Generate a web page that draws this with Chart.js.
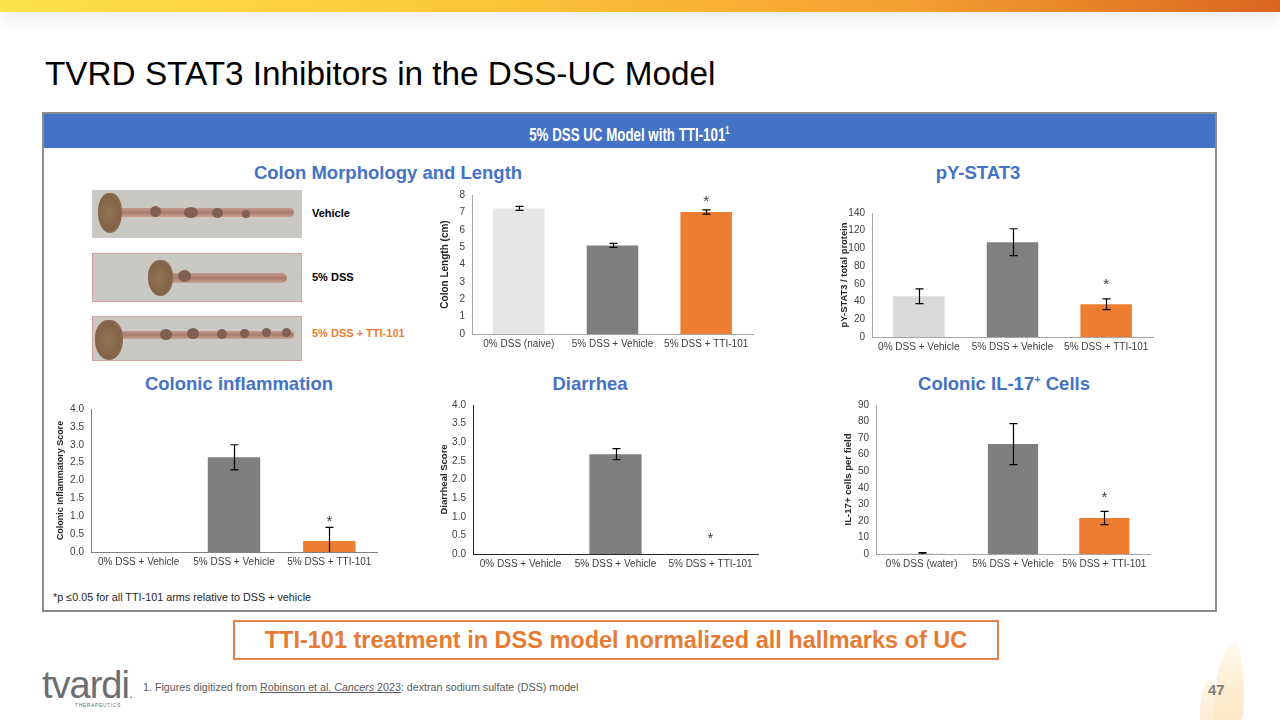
<!DOCTYPE html>
<html>
<head>
<meta charset="utf-8">
<script src="https://cdn.jsdelivr.net/npm/chart.js"></script>
<style>
  body { margin: 0; width: 1280px; height: 720px; position: relative; overflow: hidden; background: #fff; font-family: "Liberation Sans", Arial, sans-serif; }
  .abs { position: absolute; }
  canvas { position: absolute; }
  .topbar { left: 0; top: 0; width: 1280px; height: 12px; background: linear-gradient(90deg, #fde24a 0%, #fcc83a 35%, #f6a132 70%, #d9661f 100%); box-shadow: 0 6px 16px rgba(0,0,0,0.10); }
  .title { left: 45px; top: 55px; font-size: 33.3px; color: #000; white-space: nowrap; }
  .frame { left: 42px; top: 112px; width: 1171px; height: 496px; border: 2px solid #8c8c8c; }
  .header { left: 44px; top: 114px; width: 1171px; height: 34px; background: #4472c4; color: #fff; font-weight: bold; font-size: 18px; line-height: 34px; text-align: center; }
  .header span { display: inline-block; transform: scaleX(0.74); }
  .section { width: 400px; text-align: center; color: #4472c4; font-weight: bold; font-size: 18.5px; }
  .photo { left: 92px; width: 210px; background: #c9c8c3; overflow: hidden; }
  .head { position: absolute; border-radius: 45% 45% 50% 50%; background: radial-gradient(ellipse at 45% 50%, #917552 0%, #826449 60%, #a88070 100%); }
  .tail { position: absolute; border-radius: 6px; background: linear-gradient(180deg, #c29a8e 0%, #a97a6c 50%, #caa396 100%); }
  .bump { position: absolute; border-radius: 50%; background: #806050; }
  .plabel { left: 312px; font-size: 11px; font-weight: bold; color: #000; }
  .note { left: 53px; top: 591px; font-size: 10.8px; color: #262626; }
  .callout { left: 233px; top: 620px; width: 762px; height: 36px; border: 2px solid #e3824a; color: #e77b34; font-weight: bold; font-size: 23.5px; line-height: 36px; text-align: center; white-space: nowrap; }
  .logo { left: 42px; top: 664px; font-size: 38px; color: #6d6e71; letter-spacing: -1px; }
  .logo-sub { left: 75px; top: 702px; font-size: 5px; color: #6d6e71; letter-spacing: 0.6px; }
  .foot { left: 143px; top: 681px; font-size: 10.7px; color: #595959; }
  .page { left: 1208px; top: 681px; font-size: 15px; font-weight: bold; color: #7f7f7f; }
  .flame { left: 1214px; top: 642px; width: 30px; height: 95px; border-radius: 70% 30% 50% 50% / 80% 60% 40% 20%; background: linear-gradient(0deg, #fbd9a8 0%, #fde8c6 55%, #fff8ea 100%); opacity: 0.75; }
  .flame2 { left: 1200px; top: 680px; width: 22px; height: 50px; border-radius: 40% 60% 50% 50% / 70% 80% 20% 30%; background: linear-gradient(0deg, #fce3bb 0%, #fff2dc 100%); opacity: 0.7; }
</style>
</head>
<body>
<div class="abs topbar"></div>
<div class="abs title">TVRD STAT3 Inhibitors in the DSS-UC Model</div>

<div class="abs frame"></div>
<div class="abs header"><span>5% DSS UC Model with TTI-101<sup style="font-size:10px">1</sup></span></div>

<div class="abs section" style="left:188px; top:162px">Colon Morphology and Length</div>
<div class="abs section" style="left:778px; top:162px">pY-STAT3</div>
<div class="abs section" style="left:39px; top:373px">Colonic inflammation</div>
<div class="abs section" style="left:390px; top:373px">Diarrhea</div>
<div class="abs section" style="left:804px; top:373px">Colonic IL-17<sup style="font-size:11px">+</sup> Cells</div>

<div class="abs photo" style="top:190px; height:48px">
  <div class="tail" style="left:24px; top:18px; width:178px; height:9px"></div>
  <div class="head" style="left:6px; top:3px; width:24px; height:40px"></div>
  <div class="bump" style="left:58px; top:16px; width:11px; height:11px"></div>
  <div class="bump" style="left:92px; top:17px; width:14px; height:11px"></div>
  <div class="bump" style="left:120px; top:18px; width:11px; height:10px"></div>
  <div class="bump" style="left:150px; top:20px; width:8px; height:8px"></div>
</div>
<div class="abs photo" style="top:253px; height:49px; box-shadow: inset 0 0 0 1px #d6a0a0">
  <div class="tail" style="left:70px; top:20px; width:125px; height:10px"></div>
  <div class="head" style="left:56px; top:7px; width:25px; height:36px"></div>
  <div class="bump" style="left:86px; top:17px; width:13px; height:12px"></div>
</div>
<div class="abs photo" style="top:316px; height:45px; box-shadow: inset 0 0 0 1px #d6a0a0">
  <div class="tail" style="left:22px; top:15px; width:180px; height:8px"></div>
  <div class="head" style="left:3px; top:4px; width:28px; height:40px"></div>
  <div class="bump" style="left:68px; top:13px; width:12px; height:11px"></div>
  <div class="bump" style="left:95px; top:12px; width:12px; height:11px"></div>
  <div class="bump" style="left:125px; top:13px; width:10px; height:10px"></div>
  <div class="bump" style="left:148px; top:13px; width:9px; height:9px"></div>
  <div class="bump" style="left:170px; top:12px; width:9px; height:9px"></div>
  <div class="bump" style="left:190px; top:12px; width:9px; height:9px"></div>
</div>
<div class="abs plabel" style="top:207px">Vehicle</div>
<div class="abs plabel" style="top:271px">5% DSS</div>
<div class="abs plabel" style="top:327px; color:#ed7d31">5% DSS + TTI-101</div>

<canvas id="colonChart"></canvas>
<canvas id="stat3Chart"></canvas>
<canvas id="inflamChart"></canvas>
<canvas id="diarrheaChart"></canvas>
<canvas id="il17Chart"></canvas>

<div class="abs note">*p &le;0.05 for all TTI-101 arms relative to DSS + vehicle</div>

<div class="abs callout">TTI-101 treatment in DSS model normalized all hallmarks of UC</div>

<div class="abs flame"></div>
<div class="abs flame2"></div>
<div class="abs logo">tvardi<span style="font-size:14px">.</span></div>
<div class="abs logo-sub">THERAPEUTICS</div>
<div class="abs foot">1. Figures digitized from <u>Robinson et al. <i>Cancers</i> 2023</u>: dextran sodium sulfate (DSS) model</div>
<div class="abs page">47</div>

<script>
// groups on the x axis
const colonGroups = ["0% DSS (naive)", "5% DSS + Vehicle", "5% DSS + TTI-101"];
const vehicleGroups = ["0% DSS + Vehicle", "5% DSS + Vehicle", "5% DSS + TTI-101"];
const il17Groups = ["0% DSS (water)", "5% DSS + Vehicle", "5% DSS + TTI-101"];

// values (mean, +/- error)
const colonLength = [7.23, 5.1, 7.02];
const colonLengthErr = [0.12, 0.12, 0.12];
const stat3Ratio = [46, 107, 37];
const stat3RatioErr = [8.3, 15.2, 6];
const inflamScore = [0, 2.65, 0.31];
const inflamScoreErr = [0, 0.35, 0.38];
const diarrheaScore = [0, 2.68, 0];
const diarrheaScoreErr = [0, 0.15, 0];
const il17Cells = [0.5, 66.4, 21.7];
const il17CellsErr = [0.4, 12.4, 4];
const significant = [false, false, true];

const barColors = ["#e7e6e6", "#7f7f7f", "#ed7d31"];
const barColorsB = ["#d9d9d9", "#808080", "#ed7d31"];

Chart.defaults.font.family = "'Liberation Sans', Arial, sans-serif";
Chart.defaults.color = "#404040";

// error bars + significance stars, drawn through the chart scales
const errorBars = {
  id: "errorBars",
  afterDatasetsDraw(chart, args, opts) {
    const errs = opts.errors;
    if (!errs) return;
    const ctx = chart.ctx;
    const area = chart.chartArea;
    const yScale = chart.scales.y;
    const values = chart.data.datasets[0].data;
    const bars = chart.getDatasetMeta(0).data;
    ctx.save();
    ctx.beginPath();
    ctx.rect(area.left, area.top - 20, area.right - area.left, area.bottom - area.top + 20);
    ctx.clip();
    ctx.strokeStyle = "#000";
    ctx.lineWidth = 1.2;
    bars.forEach((bar, i) => {
      const e = errs[i];
      if (!e) return;
      const x = Math.round(bar.x) + 0.5;
      const hi = yScale.getPixelForValue(values[i] + e);
      const lo = yScale.getPixelForValue(values[i] - e);
      ctx.beginPath();
      ctx.moveTo(x, hi); ctx.lineTo(x, lo);
      ctx.moveTo(x - 4, hi); ctx.lineTo(x + 4, hi);
      ctx.moveTo(x - 4, lo); ctx.lineTo(x + 4, lo);
      ctx.stroke();
    });
    ctx.restore();

    const stars = opts.stars || [];
    ctx.save();
    ctx.fillStyle = "#404040";
    ctx.font = "15px 'Liberation Sans', Arial";
    ctx.textAlign = "center";
    ctx.textBaseline = "middle";
    bars.forEach((bar, i) => {
      if (!stars[i]) return;
      const top = yScale.getPixelForValue(values[i] + (errs[i] || 0));
      ctx.fillText("*", bar.x, top - (opts.starGap || 12));
    });
    ctx.restore();
  },
};

// plot = [left, top, right, bottom] of the plotting area on the slide
function barChart(id, plot, labels, values, errs, cfg) {
  const yw = cfg.yWidth, xh = 26, padT = 16, padR = 8;
  const cv = document.getElementById(id);
  const w = plot[2] - plot[0] + yw + padR;
  const h = plot[3] - plot[1] + padT + xh;
  cv.width = w; cv.height = h;
  cv.style.left = (plot[0] - yw) + "px";
  cv.style.top = (plot[1] - padT) + "px";
  cv.style.width = w + "px";
  cv.style.height = h + "px";
  return new Chart(cv, {
    type: "bar",
    data: {
      labels: labels,
      datasets: [{ data: values, backgroundColor: cfg.colors, barPercentage: cfg.barPct || 0.55, categoryPercentage: 1 }],
    },
    options: {
      responsive: false,
      animation: false,
      layout: { padding: { top: padT, right: padR, left: 0, bottom: 0 } },
      plugins: {
        legend: { display: false },
        tooltip: { enabled: false },
        errorBars: { errors: errs, stars: significant, starGap: cfg.starGap },
      },
      scales: {
        x: {
          grid: { display: false, drawTicks: false },
          border: { color: cfg.axisColor || "#a6a6a6", width: 1 },
          ticks: { color: "#404040", font: { size: 10 }, padding: 4, maxRotation: 0, autoSkip: false },
          afterFit(scale) { scale.height = xh; },
        },
        y: {
          min: 0,
          max: cfg.max,
          grid: { display: false, drawTicks: false },
          border: { color: cfg.axisColor || "#a6a6a6", width: 1 },
          ticks: {
            stepSize: cfg.step,
            color: "#404040",
            font: { size: 10 },
            padding: 7,
            callback: (v) => cfg.decimals ? v.toFixed(1) : v,
          },
          title: { display: true, text: cfg.title, color: "#262626", font: { size: cfg.titleSize || 10, weight: "bold" }, padding: { top: 3, bottom: 0 } },
          afterFit(scale) { scale.width = yw; },
        },
      },
    },
    plugins: [errorBars],
  });
}

barChart("colonChart", [472, 195, 753, 334], colonGroups, colonLength, colonLengthErr,
  { yWidth: 36, max: 8, step: 1, title: "Colon Length (cm)", colors: barColors, starGap: 8, titleSize: 10 });
barChart("stat3Chart", [872, 213, 1153, 337], vehicleGroups, stat3Ratio, stat3RatioErr,
  { yWidth: 36, max: 140, step: 20, title: "pY-STAT3 / total protein", colors: barColorsB, starGap: 14, titleSize: 9.4 });
barChart("inflamChart", [91, 409, 377, 552], vehicleGroups, inflamScore, inflamScoreErr,
  { yWidth: 39, max: 4, step: 0.5, decimals: true, title: "Colonic Inflammatory Score", colors: barColors, starGap: 5, axisColor: "#7f7f7f", titleSize: 9 });
barChart("diarrheaChart", [473, 405, 758, 554], vehicleGroups, diarrheaScore, diarrheaScoreErr,
  { yWidth: 37, max: 4, step: 0.5, decimals: true, title: "Diarrheal Score", colors: barColors, starGap: 15, axisColor: "#262626", titleSize: 9.5 });
barChart("il17Chart", [876, 405, 1150, 554], il17Groups, il17Cells, il17CellsErr,
  { yWidth: 36, max: 90, step: 10, title: "IL-17+ cells per field", colors: barColors, starGap: 14, titleSize: 9.6 });
</script>
</body>
</html>
